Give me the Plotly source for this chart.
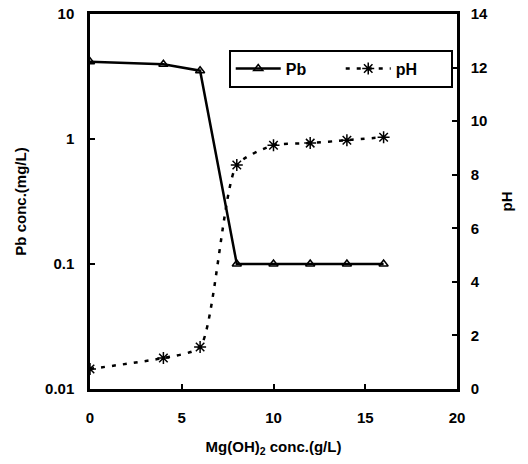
import plotly.graph_objects as go

# Mg(OH)2 dose (g/L)
dose = [0, 4, 6, 8, 10, 12, 14, 16]
# Residual Pb concentration (mg/L)
pb_conc = [4.15, 3.96, 3.52, 0.1, 0.1, 0.1, 0.1, 0.1]
# Solution pH
ph = [0.75, 1.16, 1.57, 8.36, 9.10, 9.18, 9.29, 9.40]

x_ticks = [0, 5, 10, 15, 20]
x_tick_text = ["0", "5", "10", "15", "20"]
pb_ticks = [0.01, 0.1, 1, 10]
pb_tick_text = ["0.01", "0.1", "1", "10"]
ph_ticks = [0, 2, 4, 6, 8, 10, 12, 14]
ph_tick_text = ["0", "2", "4", "6", "8", "10", "12", "14"]

FONT = "Liberation Sans, Arial, sans-serif"


def bold(labels):
    return ["<b>%s</b>" % s for s in labels]


fig = go.Figure()

fig.add_trace(go.Scatter(
    x=dose, y=pb_conc, name="<b>Pb</b>", mode="lines+markers",
    line=dict(color="black", width=2.5),
    marker=dict(symbol="triangle-up-open", size=8, color="black",
                line=dict(width=1.5, color="black")),
    yaxis="y",
))

fig.add_trace(go.Scatter(
    x=dose, y=ph, name="<b>pH</b>", mode="lines+markers",
    line=dict(color="black", width=2.5, dash="4px,7px", shape="spline", smoothing=0.6),
    marker=dict(symbol="asterisk-open", size=10, color="black",
                line=dict(width=1.5, color="black")),
    yaxis="y2",
))

axis_common = dict(
    showline=True, linecolor="black", linewidth=2.5,
    ticks="inside", ticklen=5, tickwidth=1.5, tickcolor="black",
    showgrid=False, zeroline=False, automargin=False,
    tickfont=dict(family=FONT, size=15, color="black", weight="bold"),
)

fig.update_layout(
    width=528, height=464,
    margin=dict(l=90, r=71, t=14, b=75),
    paper_bgcolor="white", plot_bgcolor="white",
    showlegend=True,
    legend=dict(
        orientation="h", x=0.378, y=0.905, xanchor="left", yanchor="top",
        bordercolor="black", borderwidth=2, bgcolor="white",
        font=dict(family=FONT, size=16, color="black", weight="bold"),
        itemwidth=45, entrywidth=50,
    ),
    xaxis=dict(
        range=[0, 20], tickvals=x_ticks, ticktext=bold(x_tick_text), mirror=True,
        title=dict(text="<b>Mg(OH)<sub>2</sub> conc.(g/L)</b>",
                   font=dict(family=FONT, size=15, color="black", weight="bold"),
                   standoff=17),
        ticklabelstandoff=13,
        **axis_common,
    ),
    yaxis=dict(
        type="log", range=[-2, 1], tickvals=pb_ticks, ticktext=bold(pb_tick_text),
        title=dict(text="<b>Pb conc.(mg/L)</b>",
                   font=dict(family=FONT, size=15, color="black", weight="bold")),
        ticklabelstandoff=10,
        **axis_common,
    ),
    yaxis2=dict(
        overlaying="y", side="right", range=[0, 14], tickvals=ph_ticks,
        ticktext=bold(ph_tick_text),
        title=dict(text="<b>pH</b>",
                   font=dict(family=FONT, size=15, color="black", weight="bold")),
        ticklabelstandoff=8,
        **axis_common,
    ),
)

fig.write_html("out.html")
